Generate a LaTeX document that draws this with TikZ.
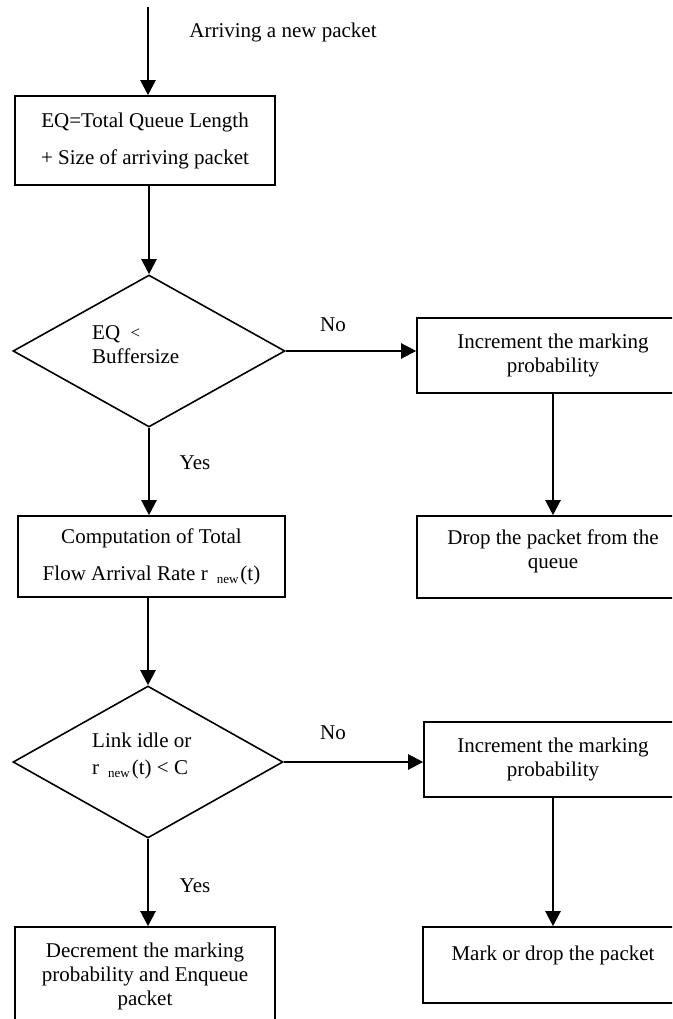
\documentclass[tikz,border=0pt]{standalone}
\usepackage{fontspec}
\setmainfont{Liberation Serif}
\usetikzlibrary{shapes.geometric,arrows.meta}
\newcommand{\mysubnew}{\raisebox{-3pt}{\fontsize{13}{13}\selectfont new}}
\begin{document}
\begin{tikzpicture}[x=1pt,y=-1pt,
  every node/.style={font={\fontsize{21}{24}\selectfont}, inner sep=0pt},
  procbox/.style={draw, line width=1.6pt, rectangle, align=center},
  decision/.style={draw, line width=1.6pt, diamond, minimum width=#1, minimum height=152},
  arr/.style={line width=2.2pt, -{Triangle[length=15pt,width=15pt]}},
  lbl/.style={}
]
\useasboundingbox (0,0) rectangle (672,1019);
\clip (0,0) rectangle (672,1019);

\coordinate (start) at (148,7);
\node[lbl] (arrive) at (283,32) {Arriving a new packet};

\node[procbox, minimum width=260, minimum height=89] (box1) at (145,140.5)
  {EQ=Total Queue Length\\[13pt] + Size of arriving packet};

\node[decision=272] (d1) at (149,351) {};
\node[anchor=west, align=left] (t1) at (92,345) {EQ\ \ \raisebox{1pt}{\fontsize{17}{17}\selectfont <}\\Buffersize};
\node[lbl] (no1) at (333,325) {No};

\node[procbox, minimum width=272, minimum height=75] (R1) at (553,355.5)
  {Increment the marking\\probability};
\node[procbox, minimum width=272, minimum height=82] (R2) at (553,557)
  {Drop the packet from the\\queue\\[-8pt]\mbox{}};

\node[lbl] (yes1) at (195,463) {Yes};
\node[procbox, minimum width=267, minimum height=81] (box2) at (151.5,556.5)
  {Computation of Total\\[13pt] Flow Arrival Rate r\hspace{9pt}\mysubnew\hspace{2pt}(t)};

\node[decision=270] (d2) at (148,762) {};
\node[anchor=west, align=left] (t2) at (92,756) {Link idle or\\[3pt] r\hspace{9pt}\mysubnew\hspace{2pt}(t) < C};
\node[lbl] (no2) at (333,733) {No};

\node[procbox, minimum width=258, minimum height=75] (R3) at (553,759.5)
  {Increment the marking\\probability};
\node[procbox, minimum width=260, minimum height=76] (R4) at (553,965)
  {Mark or drop the packet\\\mbox{}};

\node[lbl] (yes2) at (195,886) {Yes};
\node[procbox, minimum width=260, minimum height=98] (box4) at (145,976)
  {Decrement the marking\\probability and Enqueue\\packet};

\draw[arr] (start) -- (start |- box1.north);
\draw[arr] (box1.south -| d1.north) -- (d1.north);
\draw[arr] (d1.east) -- (d1.east -| R1.west);
\draw[arr] (R1.south) -- (R2.north);
\draw[arr] (d1.south) -- (d1.south |- box2.north);
\draw[arr] (box2.south -| d2.north) -- (d2.north);
\draw[arr] (d2.east) -- (d2.east -| R3.west);
\draw[arr] (R3.south) -- (R4.north);
\draw[arr] (d2.south) -- (d2.south |- box4.north);
\end{tikzpicture}
\end{document}
